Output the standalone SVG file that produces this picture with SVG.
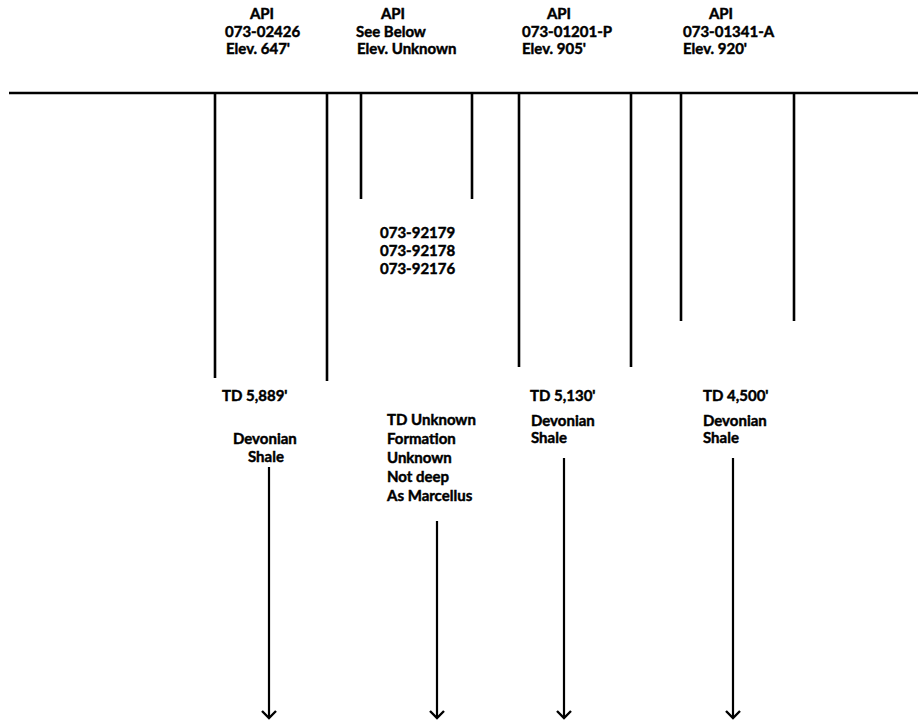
<svg xmlns="http://www.w3.org/2000/svg" width="918" height="723" viewBox="0 0 918 723">
<style>
  text { font-family: Lato, "Open Sans", "Liberation Sans", sans-serif; font-weight: bold; font-size: 15px; fill: #000; stroke: #000; stroke-width: 0.45; }
  .well { stroke: #000; stroke-width: 2.6; fill: none; }
  .ground { stroke: #000; stroke-width: 2.6; fill: none; }
  .arrow { stroke: #000; stroke-width: 2.2; fill: none; }
  .head { stroke: #000; stroke-width: 2.4; fill: none; stroke-linejoin: miter; }
</style>
<rect width="918" height="723" fill="#fff"/>
<g id="ground">
  <line class="ground" x1="9" y1="93" x2="918" y2="93"/>
</g>
<g id="well1">
  <text x="262" y="19" text-anchor="middle">API</text>
  <text x="225" y="37">073-02426</text>
  <text x="226" y="54">Elev. 647'</text>
  <line class="well" x1="215" y1="93" x2="215" y2="378"/>
  <line class="well" x1="327" y1="93" x2="327" y2="381"/>
  <text x="222" y="401">TD 5,889'</text>
  <text x="233" y="444">Devonian</text>
  <text x="248" y="462">Shale</text>
</g>
<g id="well2">
  <text x="393" y="19" text-anchor="middle">API</text>
  <text x="356" y="37">See Below</text>
  <text x="357" y="54">Elev. Unknown</text>
  <line class="well" x1="361" y1="93" x2="361" y2="199"/>
  <line class="well" x1="472" y1="93" x2="472" y2="199"/>
  <text x="380" y="238">073-92179</text>
  <text x="380" y="256">073-92178</text>
  <text x="380" y="274">073-92176</text>
  <text x="387" y="425">TD Unknown</text>
  <text x="387" y="444">Formation</text>
  <text x="387" y="463">Unknown</text>
  <text x="387" y="482">Not deep</text>
  <text x="387" y="501">As Marcellus</text>
</g>
<g id="well3">
  <text x="559" y="19" text-anchor="middle">API</text>
  <text x="522" y="37">073-01201-P</text>
  <text x="522" y="54">Elev. 905'</text>
  <line class="well" x1="519" y1="93" x2="519" y2="367"/>
  <line class="well" x1="631" y1="93" x2="631" y2="367"/>
  <text x="530" y="401">TD 5,130'</text>
  <text x="531" y="426">Devonian</text>
  <text x="531" y="443">Shale</text>
</g>
<g id="well4">
  <text x="721" y="19" text-anchor="middle">API</text>
  <text x="683" y="37">073-01341-A</text>
  <text x="683" y="54">Elev. 920'</text>
  <line class="well" x1="681" y1="93" x2="681" y2="321"/>
  <line class="well" x1="794" y1="93" x2="794" y2="321"/>
  <text x="703" y="401">TD 4,500'</text>
  <text x="703" y="426">Devonian</text>
  <text x="703" y="443">Shale</text>
</g>
<g id="connectors">
  <line class="arrow" x1="269" y1="467" x2="269" y2="718"/>
  <polyline class="head" points="262,711 269,718 276,711"/>
  <line class="arrow" x1="437" y1="521" x2="437" y2="718"/>
  <polyline class="head" points="430,711 437,718 444,711"/>
  <line class="arrow" x1="564" y1="458" x2="564" y2="718"/>
  <polyline class="head" points="557,711 564,718 571,711"/>
  <line class="arrow" x1="733" y1="458" x2="733" y2="718"/>
  <polyline class="head" points="726,711 733,718 740,711"/>
</g>
</svg>
